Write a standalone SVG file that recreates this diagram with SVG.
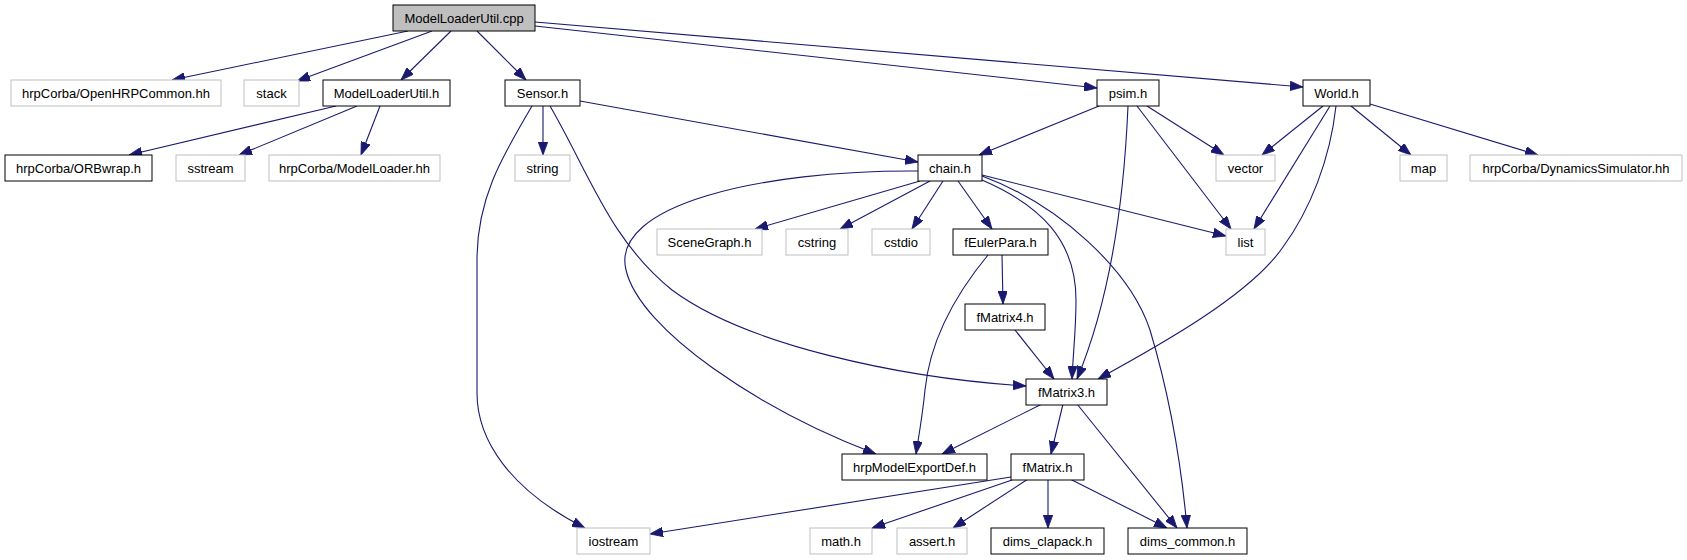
<svg xmlns="http://www.w3.org/2000/svg" width="1687" height="560" viewBox="0 0 1687 560">
<style>
.n rect{fill:#fff;stroke:#000;stroke-width:1}
.g rect{fill:#fff;stroke:#bfbfbf;stroke-width:1}
.root rect{fill:#bfbfbf;stroke:#000;stroke-width:1}
text{font-family:"Liberation Sans",Arial,sans-serif;font-size:13px;fill:#000;text-anchor:middle}
#edges path{fill:none;stroke:#191970;stroke-width:1.1;marker-end:url(#arr)}
</style>
<defs>
<marker id="arr" viewBox="0 0 13 9.5" refX="13" refY="4.75" markerWidth="13" markerHeight="9.5" markerUnits="userSpaceOnUse" orient="auto">
<path d="M0,0 L13,4.75 L0,9.5 z" fill="#191970" stroke="#191970" stroke-width="0.8"/>
</marker>
</defs>
<rect width="1687" height="560" fill="#fff"/>
<g id="edges">
<path d="M408,31 L172,80"/>
<path d="M432,31 L297,81"/>
<path d="M451,31 L401,80"/>
<path d="M477,31 L526,80"/>
<path d="M535,26 L1097,88"/>
<path d="M535,22 L1303,87"/>
<path d="M336,106 L129,155"/>
<path d="M357,106 L239,155"/>
<path d="M380,106 L361,155"/>
<path d="M543,106 L543,155"/>
<path d="M532,106 C500,160 477,200 477,260 L477,393 C477,440 510,490 585,528"/>
<path d="M550,106 C590,175 610,240 672,290 C746,345 900,378 1026,386"/>
<path d="M580,101 L918,162"/>
<path d="M1099,106 L979,155"/>
<path d="M1147,106 L1224,155"/>
<path d="M1137,106 L1231,229"/>
<path d="M1128,106 C1124,200 1110,300 1077,379"/>
<path d="M1323,106 L1262,155"/>
<path d="M1330,106 L1254,229"/>
<path d="M1336,106 C1330,160 1310,210 1283,247 C1250,295 1160,345 1098,379"/>
<path d="M1351,106 L1411,155"/>
<path d="M1370,104 L1538,155"/>
<path d="M918,171 C760,170 610,205 626,270 C640,330 760,410 876,454"/>
<path d="M920,181 L755,229"/>
<path d="M930,181 L840,229"/>
<path d="M943,181 L912,229"/>
<path d="M958,181 L992,229"/>
<path d="M982,175 L1226,236"/>
<path d="M982,180 C1040,205 1076,240 1076,300 C1076,330 1073,355 1072,379"/>
<path d="M982,176 C1060,205 1130,270 1150,330 C1165,380 1180,450 1187,528"/>
<path d="M1002,255 L1003,304"/>
<path d="M988,255 C955,295 930,340 925,390 C922,420 918,440 916,454"/>
<path d="M1015,330 L1054,379"/>
<path d="M1042,404 L942,454"/>
<path d="M1063,404 L1051,454"/>
<path d="M1077,404 L1177,528"/>
<path d="M1011,477 L650,534"/>
<path d="M1012,480 L872,528"/>
<path d="M1028,479 L953,528"/>
<path d="M1048,479 L1048,528"/>
<path d="M1070,479 L1167,528"/>
</g>
<g id="n_cpp" class="root"><rect x="393" y="5" width="142" height="26"/><text x="464" y="22.5">ModelLoaderUtil.cpp</text></g>
<g id="n_openhrp" class="g"><rect x="11" y="80" width="210" height="26"/><text x="116" y="97.5">hrpCorba/OpenHRPCommon.hh</text></g>
<g id="n_stack" class="g"><rect x="244" y="80" width="55" height="26"/><text x="271.5" y="97.5">stack</text></g>
<g id="n_mluh" class="n"><rect x="323" y="80" width="127" height="26"/><text x="386.5" y="97.5">ModelLoaderUtil.h</text></g>
<g id="n_sensor" class="n"><rect x="505" y="80" width="75" height="26"/><text x="542.5" y="97.5">Sensor.h</text></g>
<g id="n_psim" class="n"><rect x="1097" y="80" width="62" height="26"/><text x="1128" y="97.5">psim.h</text></g>
<g id="n_world" class="n"><rect x="1303" y="80" width="67" height="26"/><text x="1336.5" y="97.5">World.h</text></g>
<g id="n_orbwrap" class="n"><rect x="5" y="155" width="147" height="26"/><text x="78.5" y="172.5">hrpCorba/ORBwrap.h</text></g>
<g id="n_sstream" class="g"><rect x="176" y="155" width="69" height="26"/><text x="210.5" y="172.5">sstream</text></g>
<g id="n_modelloader" class="g"><rect x="269" y="155" width="171" height="26"/><text x="354.5" y="172.5">hrpCorba/ModelLoader.hh</text></g>
<g id="n_string" class="g"><rect x="515" y="155" width="55" height="26"/><text x="542.5" y="172.5">string</text></g>
<g id="n_chain" class="n"><rect x="918" y="155" width="64" height="26"/><text x="950" y="172.5">chain.h</text></g>
<g id="n_vector" class="g"><rect x="1216" y="155" width="59" height="26"/><text x="1245.5" y="172.5">vector</text></g>
<g id="n_map" class="g"><rect x="1400" y="155" width="47" height="26"/><text x="1423.5" y="172.5">map</text></g>
<g id="n_dynsim" class="g"><rect x="1470" y="155" width="212" height="26"/><text x="1576" y="172.5">hrpCorba/DynamicsSimulator.hh</text></g>
<g id="n_scenegraph" class="g"><rect x="657" y="229" width="105" height="26"/><text x="709.5" y="246.5">SceneGraph.h</text></g>
<g id="n_cstring" class="g"><rect x="786" y="229" width="62" height="26"/><text x="817" y="246.5">cstring</text></g>
<g id="n_cstdio" class="g"><rect x="872" y="229" width="58" height="26"/><text x="901" y="246.5">cstdio</text></g>
<g id="n_feuler" class="n"><rect x="953" y="229" width="95" height="26"/><text x="1000.5" y="246.5">fEulerPara.h</text></g>
<g id="n_list" class="g"><rect x="1226" y="229" width="39" height="26"/><text x="1245.5" y="246.5">list</text></g>
<g id="n_fm4" class="n"><rect x="965" y="304" width="80" height="26"/><text x="1005" y="321.5">fMatrix4.h</text></g>
<g id="n_fm3" class="n"><rect x="1026" y="379" width="81" height="26"/><text x="1066.5" y="396.5">fMatrix3.h</text></g>
<g id="n_hrpexp" class="n"><rect x="842" y="454" width="145" height="26"/><text x="914.5" y="471.5">hrpModelExportDef.h</text></g>
<g id="n_fm" class="n"><rect x="1011" y="454" width="73" height="26"/><text x="1047.5" y="471.5">fMatrix.h</text></g>
<g id="n_iostream" class="g"><rect x="577" y="528" width="73" height="26"/><text x="613.5" y="545.5">iostream</text></g>
<g id="n_math" class="g"><rect x="810" y="528" width="62" height="26"/><text x="841" y="545.5">math.h</text></g>
<g id="n_assert" class="g"><rect x="897" y="528" width="70" height="26"/><text x="932" y="545.5">assert.h</text></g>
<g id="n_clapack" class="n"><rect x="991" y="528" width="113" height="26"/><text x="1047.5" y="545.5">dims_clapack.h</text></g>
<g id="n_common" class="n"><rect x="1128" y="528" width="119" height="26"/><text x="1187.5" y="545.5">dims_common.h</text></g>
</svg>
